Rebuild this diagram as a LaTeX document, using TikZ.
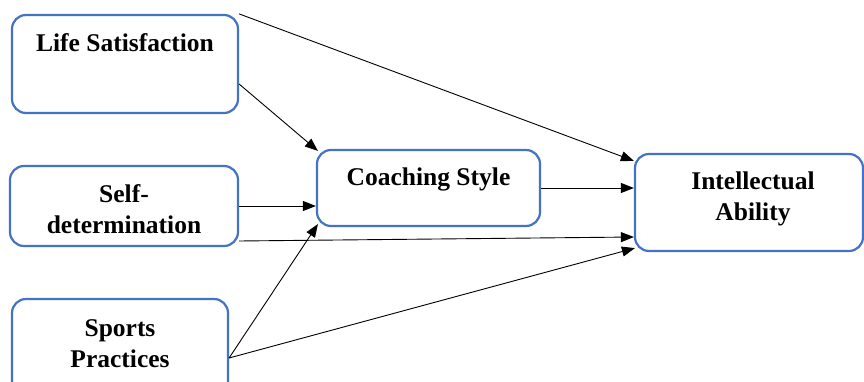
\documentclass[tikz,border=0pt]{standalone}
\usepackage{fontspec}
\setmainfont{Liberation Serif}
\usetikzlibrary{arrows.meta,calc}
\definecolor{boxblue}{HTML}{4472C4}
\tikzset{
  box/.style={draw=boxblue, line width=2.2pt, rounded corners=14pt, fill=white, inner sep=0pt},
  lbl/.style={font=\fontsize{25.5}{31}\selectfont\bfseries, align=center, inner sep=0pt},
  arr/.style={draw=black, line width=0.9pt, -{Triangle[length=13pt,width=10pt]}},
  ln/.style={draw=black, line width=0.9pt}
}
\begin{document}
\begin{tikzpicture}[x=1pt,y=-1pt]
\useasboundingbox (0,0) rectangle (864,382);
\clip (0,0) rectangle (864,382);
% boxes
\node[box, minimum width=226pt, minimum height=98pt] (ls) at (125,64) {};
\node[box, minimum width=228pt, minimum height=80pt] (sd) at (124,206) {};
\node[box, minimum width=216pt, minimum height=98pt] (sp) at (120,348) {};
\node[box, minimum width=223pt, minimum height=76pt] (cs) at (428.5,188) {};
\node[box, minimum width=228pt, minimum height=97pt] (ia) at (749,202.5) {};
% labels
\node[lbl] (lst) at (125,43) {Life Satisfaction};
\node[lbl] (sdt) at (124,209) {Self-\\determination};
\node[lbl] (spt) at (120,344) {Sports\\Practices};
\node[lbl] (cst) at (428.5,179) {Coaching Style};
\node[lbl] (iat) at (753,199) {Intellectual\\Ability};
% connectors
\coordinate (spo) at ($(sp.east)+(0,10)$);
\draw[arr] (ls.north east) -- ([yshift=-8pt]ia.north west);
\draw[arr] ([yshift=-20pt]ls.east) -- ([xshift=2pt,yshift=-2pt]cs.north west);
\draw[arr] (sd.east) -- ([yshift=-18pt]cs.west);
\draw[arr] ([yshift=-35pt]sd.east) -- ([yshift=-34.5pt]ia.west);
\draw[arr] (spo) -- ([xshift=2pt,yshift=3pt]cs.south west);
\draw[arr] (spo) -- ([xshift=1pt,yshift=4pt]ia.south west);
\draw[arr] (cs.east) -- ([yshift=14.5pt]ia.west);
\end{tikzpicture}
\end{document}
